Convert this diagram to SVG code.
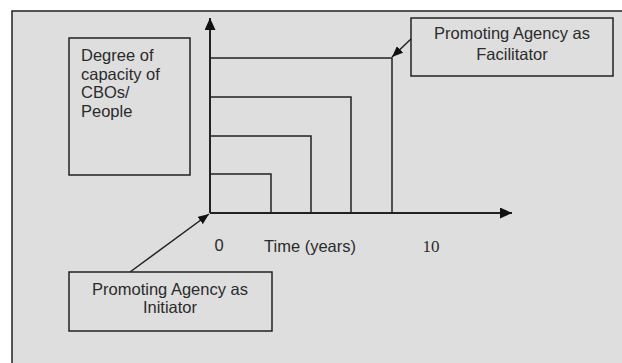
<svg xmlns="http://www.w3.org/2000/svg" width="622" height="363" viewBox="0 0 622 363">
<style>
.box{fill:none;stroke:#222;stroke-width:1.5}
.ln{fill:none;stroke:#222;stroke-width:1.5}
.ax{fill:none;stroke:#222;stroke-width:2}
.t{font-family:"Liberation Sans",Arial,sans-serif;font-size:16.5px;fill:#2b2b2b}
.s{font-family:"Liberation Serif","Times New Roman",serif;font-size:17px;fill:#2b2b2b}
</style>
<defs>
<marker id="big" markerUnits="userSpaceOnUse" markerWidth="12" markerHeight="11" refX="12" refY="5.5" orient="auto" viewBox="0 0 12 11">
<path d="M0,0 L12,5.5 L0,11 z" fill="#111"/>
</marker>
<marker id="small" markerUnits="userSpaceOnUse" markerWidth="11" markerHeight="9" refX="11" refY="4.5" orient="auto" viewBox="0 0 11 9">
<path d="M0,0 L11,4.5 L0,9 z" fill="#111"/>
</marker>
</defs>
<rect x="0" y="0" width="622" height="363" fill="#ffffff"/>
<rect id="frame" x="12" y="11" width="620" height="360" fill="#dedede" stroke="#222" stroke-width="1.5"/>

<g id="steps">
<polyline class="ln" points="210,58 392,58 392,213"/>
<polyline class="ln" points="210,97 351,97 351,213"/>
<polyline class="ln" points="210,136 311,136 311,213"/>
<polyline class="ln" points="210,174 271,174 271,213"/>
</g>

<g id="axes">
<line class="ax" x1="210" y1="213" x2="210" y2="18" marker-end="url(#big)"/>
<line class="ax" x1="210" y1="213" x2="512" y2="213" marker-end="url(#big)"/>
<text class="t" x="219" y="251" text-anchor="middle">0</text>
<text class="t" x="264" y="252">Time (years)</text>
<text class="s" x="431" y="252" text-anchor="middle">10</text>
</g>

<g id="ylabel">
<rect class="box" x="69" y="38" width="121" height="137"/>
<text class="t" x="81" y="61">Degree of</text>
<text class="t" x="81" y="79.5">capacity of</text>
<text class="t" x="81" y="98">CBOs/</text>
<text class="t" x="81" y="116.5">People</text>
</g>

<g id="facilitator">
<rect class="box" x="411" y="18" width="202" height="58"/>
<text class="t" x="512" y="39" text-anchor="middle">Promoting Agency as</text>
<text class="t" x="512" y="60" text-anchor="middle">Facilitator</text>
</g>

<g id="initiator">
<rect class="box" x="69" y="272" width="203" height="59"/>
<text class="t" x="170" y="295" text-anchor="middle">Promoting Agency as</text>
<text class="t" x="170" y="313" text-anchor="middle">Initiator</text>
</g>

<g id="connectors">
<line class="ln" x1="411" y1="39" x2="392" y2="57" marker-end="url(#small)"/>
<line class="ln" x1="130" y1="272" x2="209" y2="214" marker-end="url(#small)"/>
</g>
</svg>
